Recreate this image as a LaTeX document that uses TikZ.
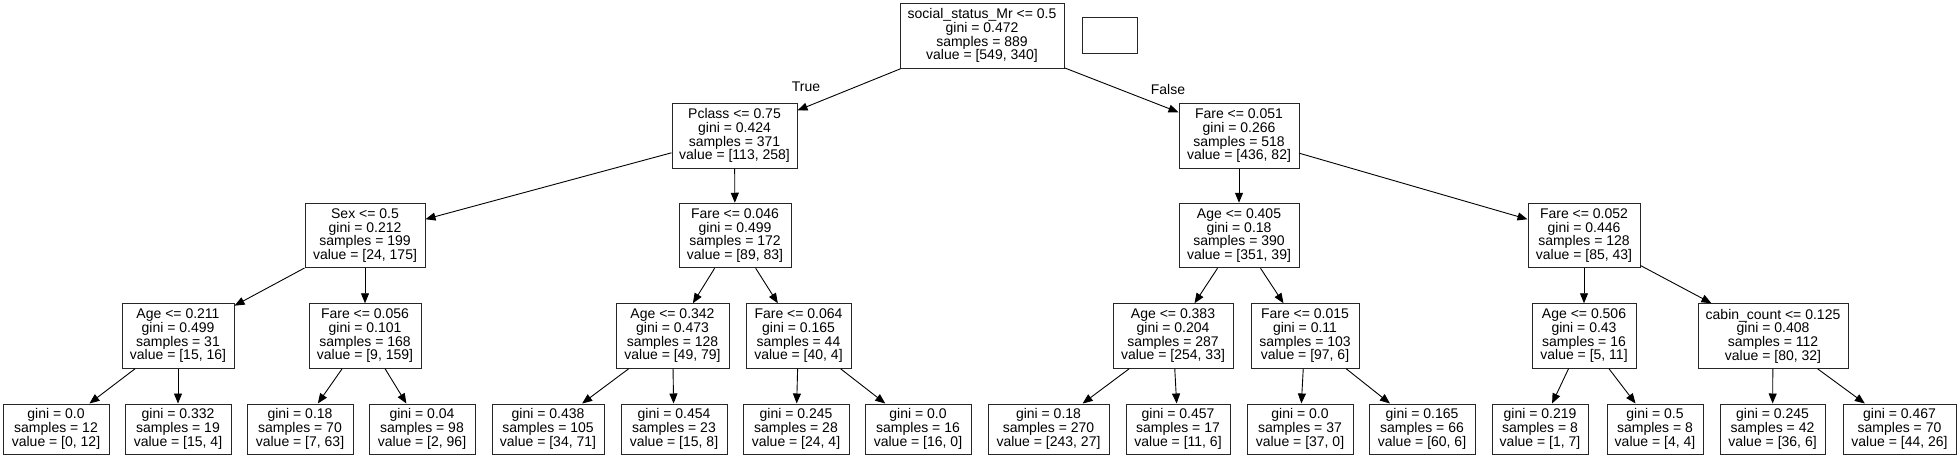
\documentclass[tikz,border=0pt]{standalone}
\usepackage{fontspec}
\setmainfont{Liberation Sans}
\usetikzlibrary{arrows.meta}
\begin{document}
\begin{tikzpicture}[x=1pt,y=-1pt,
  box/.style={draw=black!85, line width=1pt, inner sep=0pt, align=center,
    font=\fontsize{14}{13.7}\selectfont, minimum height=64.5pt,
    execute at begin node={\vspace*{3.8pt}}},
  leaf/.style={box, minimum height=50pt},
  lbl/.style={inner sep=0pt, font=\fontsize{14}{13.7}\selectfont},
  edge/.style={-{Triangle[length=10pt,width=8pt]}, line width=0.9pt}]
\useasboundingbox (0,0) rectangle (1959,458);
% level 0
\node[box, minimum width=164pt, minimum height=65pt] (root) at (982,35.8) {social\_status\_Mr <= 0.5\\gini = 0.472\\samples = 889\\value = [549, 340]};
\node[draw=black!85, line width=1pt, minimum width=55pt, minimum height=36.3pt, inner sep=0pt] (empty) at (1109.5,35.8) {};
% level 1
\node[box, minimum width=125pt] (pclass) at (734.5,135.8) {Pclass <= 0.75\\gini = 0.424\\samples = 371\\value = [113, 258]};
\node[box, minimum width=120pt] (fareA) at (1239,135.8) {Fare <= 0.051\\gini = 0.266\\samples = 518\\value = [436, 82]};
% level 2
\node[box, minimum width=120pt] (sex) at (365,235.5) {Sex <= 0.5\\gini = 0.212\\samples = 199\\value = [24, 175]};
\node[box, minimum width=112pt] (fareB) at (735,235.5) {Fare <= 0.046\\gini = 0.499\\samples = 172\\value = [89, 83]};
\node[box, minimum width=120pt] (ageA) at (1239,235.5) {Age <= 0.405\\gini = 0.18\\samples = 390\\value = [351, 39]};
\node[box, minimum width=112pt] (fareC) at (1584,235.5) {Fare <= 0.052\\gini = 0.446\\samples = 128\\value = [85, 43]};
% level 3
\node[box, minimum width=112pt] (ageB) at (178,336) {Age <= 0.211\\gini = 0.499\\samples = 31\\value = [15, 16]};
\node[box, minimum width=112pt] (fareD) at (365,336) {Fare <= 0.056\\gini = 0.101\\samples = 168\\value = [9, 159]};
\node[box, minimum width=113pt] (ageC) at (672.5,336) {Age <= 0.342\\gini = 0.473\\samples = 128\\value = [49, 79]};
\node[box, minimum width=105pt] (fareE) at (798.5,336) {Fare <= 0.064\\gini = 0.165\\samples = 44\\value = [40, 4]};
\node[box, minimum width=120pt] (ageD) at (1173,336) {Age <= 0.383\\gini = 0.204\\samples = 287\\value = [254, 33]};
\node[box, minimum width=108pt] (fareF) at (1305,336) {Fare <= 0.015\\gini = 0.11\\samples = 103\\value = [97, 6]};
\node[box, minimum width=104pt] (ageE) at (1584,336) {Age <= 0.506\\gini = 0.43\\samples = 16\\value = [5, 11]};
\node[box, minimum width=150pt] (cabin) at (1773,336) {cabin\_count <= 0.125\\gini = 0.408\\samples = 112\\value = [80, 32]};
% leaves
\node[leaf, minimum width=106pt] (l1) at (56,429) {gini = 0.0\\samples = 12\\value = [0, 12]};
\node[leaf, minimum width=106pt] (l2) at (178,429) {gini = 0.332\\samples = 19\\value = [15, 4]};
\node[leaf, minimum width=106pt] (l3) at (300,429) {gini = 0.18\\samples = 70\\value = [7, 63]};
\node[leaf, minimum width=106pt] (l4) at (422,429) {gini = 0.04\\samples = 98\\value = [2, 96]};
\node[leaf, minimum width=112pt] (l5) at (548,429) {gini = 0.438\\samples = 105\\value = [34, 71]};
\node[leaf, minimum width=106pt] (l6) at (674,429) {gini = 0.454\\samples = 23\\value = [15, 8]};
\node[leaf, minimum width=106pt] (l7) at (796,429) {gini = 0.245\\samples = 28\\value = [24, 4]};
\node[leaf, minimum width=106pt] (l8) at (918,429) {gini = 0.0\\samples = 16\\value = [16, 0]};
\node[leaf, minimum width=121pt] (l9) at (1048.5,429) {gini = 0.18\\samples = 270\\value = [243, 27]};
\node[leaf, minimum width=104pt] (l10) at (1178,429) {gini = 0.457\\samples = 17\\value = [11, 6]};
\node[leaf, minimum width=106pt] (l11) at (1300,429) {gini = 0.0\\samples = 37\\value = [37, 0]};
\node[leaf, minimum width=106pt] (l12) at (1422,429) {gini = 0.165\\samples = 66\\value = [60, 6]};
\node[leaf, minimum width=96pt] (l13) at (1540,429) {gini = 0.219\\samples = 8\\value = [1, 7]};
\node[leaf, minimum width=96pt] (l14) at (1655,429) {gini = 0.5\\samples = 8\\value = [4, 4]};
\node[leaf, minimum width=105pt] (l15) at (1772.5,429) {gini = 0.245\\samples = 42\\value = [36, 6]};
\node[leaf, minimum width=113pt] (l16) at (1899.5,429) {gini = 0.467\\samples = 70\\value = [44, 26]};
% edge labels
\node[lbl] (tlab) at (806,87) {True};
\node[lbl] (flab) at (1168,89) {False};
% edges
\draw[edge] (root) -- (pclass);
\draw[edge] (root) -- (fareA);
\draw[edge] (pclass) -- (sex);
\draw[edge] (pclass) -- (fareB);
\draw[edge] (fareA) -- (ageA);
\draw[edge] (fareA) -- (fareC);
\draw[edge] (sex) -- (ageB);
\draw[edge] (sex) -- (fareD);
\draw[edge] (fareB) -- (ageC);
\draw[edge] (fareB) -- (fareE);
\draw[edge] (ageA) -- (ageD);
\draw[edge] (ageA) -- (fareF);
\draw[edge] (fareC) -- (ageE);
\draw[edge] (fareC) -- (cabin);
\draw[edge] (ageB) -- (l1);
\draw[edge] (ageB) -- (l2);
\draw[edge] (fareD) -- (l3);
\draw[edge] (fareD) -- (l4);
\draw[edge] (ageC) -- (l5);
\draw[edge] (ageC) -- (l6);
\draw[edge] (fareE) -- (l7);
\draw[edge] (fareE) -- (l8);
\draw[edge] (ageD) -- (l9);
\draw[edge] (ageD) -- (l10);
\draw[edge] (fareF) -- (l11);
\draw[edge] (fareF) -- (l12);
\draw[edge] (ageE) -- (l13);
\draw[edge] (ageE) -- (l14);
\draw[edge] (cabin) -- (l15);
\draw[edge] (cabin) -- (l16);
\end{tikzpicture}
\end{document}
